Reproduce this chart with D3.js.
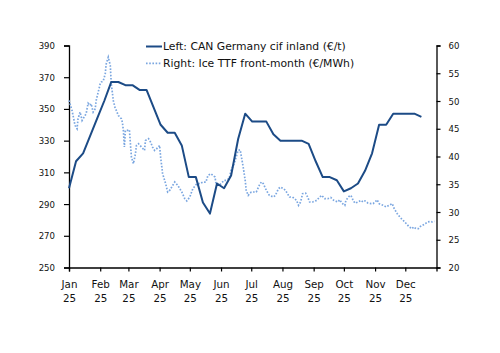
<!DOCTYPE html>
<html><head><meta charset="utf-8">
<script src="https://cdn.jsdelivr.net/npm/d3@7"></script>
<style>
html,body{margin:0;padding:0;background:#fff;}
svg{display:block;}
text{font-family:"DejaVu Sans",sans-serif;fill:#111;}
.ylab{font-family:"DejaVu Sans Condensed","DejaVu Sans",sans-serif;}
</style></head>
<body>
<svg id="chart" width="500" height="353"></svg>
<script>
// ---- data ----
const canDates = ["2025-01-01","2025-01-08","2025-01-15","2025-01-22","2025-01-29","2025-02-05","2025-02-12","2025-02-19","2025-02-26","2025-03-05","2025-03-12","2025-03-19","2025-03-26","2025-04-02","2025-04-09","2025-04-16","2025-04-23","2025-04-30","2025-05-07","2025-05-14","2025-05-21","2025-05-28","2025-06-04","2025-06-11","2025-06-18","2025-06-25","2025-07-02","2025-07-09","2025-07-16","2025-07-23","2025-07-30","2025-08-06","2025-08-13","2025-08-20","2025-08-27","2025-09-03","2025-09-10","2025-09-17","2025-09-24","2025-10-01","2025-10-08","2025-10-15","2025-10-22","2025-10-29","2025-11-05","2025-11-12","2025-11-19","2025-11-26","2025-12-03","2025-12-10","2025-12-17"];
const canValues = [300,317,322,333,344,355,367,367,365,365,362,362,351,340,335,335,327,307,307,291,284,303,300,308,331,347,342,342,342,334,330,330,330,330,328,317,307,307,305,298,300,303,311,322,340,340,347,347,347,347,345];

// TTF: days since 1 Jan 2025
const ttfDays = [0,3,6,8,9,11,13,14,17,19,21,22,24,26,27,29,31,32,34,36,37,39,41,42,44,46,47,49,52,53,54,55,56,58,60,61,62,64,66,67,69,72,75,76,79,81,83,85,87,89,90,91,93,94,96,98,100,105,108,112,115,117,120,123,127,130,133,136,138,141,143,145,146,149,151,154,156,159,161,164,166,168,170,171,173,175,176,178,181,186,189,191,193,196,199,203,205,208,210,213,215,218,219,222,226,228,230,232,235,237,239,242,246,249,251,254,257,260,263,267,269,271,274,275,278,280,282,284,287,290,292,294,297,300,302,304,306,308,312,315,318,321,323,326,329,333,336,338,341,342,345,347,349,351,354,356,359,361,363];
const ttfValues = [50.1,48.3,45.6,45.0,46.8,48.0,46.5,46.8,47.7,49.6,49.2,49.5,48.0,48.6,50.1,51.6,53.1,53.4,53.6,54.9,56.7,57.9,56.4,53.1,50.1,48.6,48.3,47.4,46.8,46.2,44.7,41.7,44.7,44.7,44.8,42.3,39.9,38.7,40.5,42.0,42.3,41.7,41.1,42.9,43.2,42.6,41.7,41.1,41.4,41.7,42.0,39.9,36.9,36.3,35.1,33.6,33.9,35.4,34.8,33.6,32.4,32.0,32.7,34.2,35.1,35.1,35.4,35.4,36.6,36.9,36.6,36.3,35.1,34.8,35.1,35.7,35.7,36.0,37.5,38.7,39.9,41.1,41.2,40.2,38.1,35.7,33.9,33.0,33.6,33.6,34.8,35.4,35.1,33.9,33.0,32.7,33.0,34.2,34.5,34.2,33.9,33.0,32.7,32.7,32.1,31.2,31.8,33.3,33.4,32.7,31.8,31.8,32.1,32.7,33.0,32.4,32.4,32.6,32.1,31.8,32.2,31.6,31.2,32.1,32.8,33.0,32.2,31.6,31.8,32.1,31.8,32.0,31.6,31.5,31.5,31.8,32.2,31.5,31.2,30.9,31.2,31.5,30.6,29.7,29.0,28.3,27.7,27.3,27.0,27.3,27.0,27.0,27.4,27.6,27.9,28.2,28.3,28.2,28.3];

const leftTicks = [250,270,290,310,330,350,370,390];
const rightTicks = [20,25,30,35,40,45,50,55,60];
const legendLabels = ["Left: CAN Germany cif inland (\u20AC/t)","Right: Ice TTF front-month (\u20AC/MWh)"];

// ---- chart ----
const svg = d3.select("#chart");
const m = {left:69, right:436.5, top:45.5, bottom:267.5};
const parse = d3.timeParse("%Y-%m-%d");
const start = new Date(2025,0,1);

const x = d3.scaleTime().domain([start, new Date(2026,0,1)]).range([m.left, m.right]);
const yL = d3.scaleLinear().domain([250,390]).range([m.bottom, m.top]);
const yR = d3.scaleLinear().domain([20,60]).range([m.bottom, m.top]);

const canData = canDates.map((d,i)=>({date:parse(d), v:canValues[i]}));
const ttfData = ttfDays.map((d,i)=>({date:d3.timeDay.offset(start,d), v:ttfValues[i]}));

const canColor = "#1c4b86";
const ttfColor = "#7aa6e0";

// axes
const gL = svg.append("g").attr("transform",`translate(${m.left},0)`)
  .call(d3.axisLeft(yL).tickValues(leftTicks).tickSize(5).tickPadding(9));
const gR = svg.append("g").attr("transform",`translate(${m.right},0)`)
  .call(d3.axisRight(yR).tickValues(rightTicks).tickSize(4).tickPadding(8));
const months = d3.timeMonth.range(start, new Date(2025,11,2));
const gX = svg.append("g").attr("transform",`translate(0,${m.bottom})`)
  .call(d3.axisBottom(x).tickValues(months.concat([new Date(2026,0,1)])).tickSize(4).tickFormat(""));
[gL,gR,gX].forEach(g=>{
  g.selectAll("path.domain").attr("stroke","#000").attr("stroke-width",1.3);
  g.selectAll(".tick line").attr("stroke","#000").attr("stroke-width",1.2);
});
[gL,gR].forEach(g=>{
  g.selectAll("text").attr("class","ylab").style("font-size","9.5px").attr("fill","#111").attr("font-family",null);
});
gX.select(".tick:last-child line").remove();
// two-line month labels
gX.selectAll(".tick").each(function(d){
  if (+d === +new Date(2026,0,1)) return;
  const t = d3.select(this).append("text").attr("text-anchor","middle").style("font-size","10.3px").attr("fill","#111");
  t.append("tspan").attr("x",0).attr("y",20).text(d3.timeFormat("%b")(d));
  t.append("tspan").attr("x",0).attr("y",34).text(d3.timeFormat("%y")(d));
});

// lines
svg.append("path").datum(ttfData)
  .attr("fill","none").attr("stroke",ttfColor).attr("stroke-width",1.7)
  .attr("stroke-dasharray","1.6,1.6")
  .attr("d", d3.line().x(d=>x(d.date)).y(d=>yR(d.v)));
svg.append("path").datum(canData)
  .attr("fill","none").attr("stroke",canColor).attr("stroke-width",2)
  .attr("stroke-linejoin","round")
  .attr("d", d3.line().x(d=>x(d.date)).y(d=>yL(d.v)));

// legend
const lg = svg.append("g");
const styles = [{c:canColor,dash:null,w:2},{c:ttfColor,dash:"1.6,1.6",w:1.7}];
legendLabels.forEach((lab,i)=>{
  const yy = 46.5 + i*16.8;
  lg.append("line").attr("x1",146).attr("x2",162).attr("y1",yy).attr("y2",yy)
    .attr("stroke",styles[i].c).attr("stroke-width",styles[i].w).attr("stroke-dasharray",styles[i].dash);
  lg.append("text").attr("x",163).attr("y",yy).attr("dy","0.35em").style("font-size","10.8px").text(lab);
});
</script>
</body></html>
